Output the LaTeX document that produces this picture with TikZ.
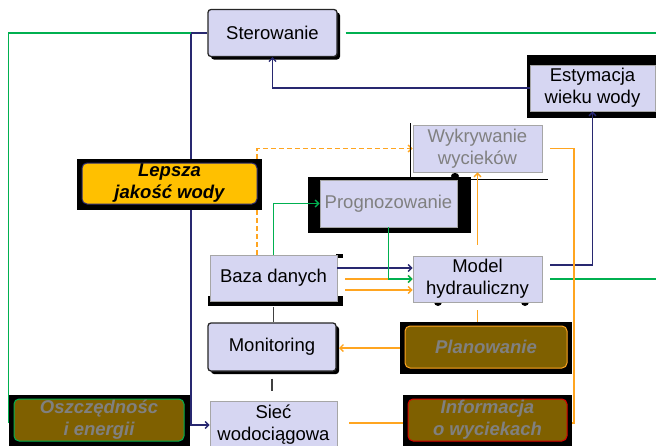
\documentclass[tikz,border=0pt]{standalone}
\usepackage{fontspec}
\setmainfont{Liberation Sans}
\usetikzlibrary{arrows.meta}
\definecolor{lav}{RGB}{214,214,242}
\definecolor{navy}{RGB}{40,40,112}
\definecolor{grn}{RGB}{0,176,80}
\definecolor{org}{RGB}{255,165,32}
\definecolor{brn}{RGB}{127,96,0}
\definecolor{txtgray}{RGB}{128,128,128}
\definecolor{gold}{RGB}{255,192,0}
\pgfdeclarelayer{bg}
\pgfsetlayers{bg,main}

\begin{document}
\begin{tikzpicture}[x=1pt,y=-1pt,
  txt/.style={font=\fontsize{18.5}{22}\selectfont, align=center},
  plain/.style={txt, draw=black!35, fill=lav, line width=0.9pt, inner sep=0pt},
  strong/.style={txt, draw=black!85, fill=lav, line width=1.3pt, rounded corners=3pt, inner sep=0pt},
  back/.style={fill=black, inner sep=0pt},
  pill/.style={align=center, font=\fontsize{18.5}{22}\selectfont\bfseries\itshape,
    rounded corners=5pt, line width=1pt, inner sep=0pt},
  nvl/.style={draw=navy, line width=1.3pt},
  gl/.style={draw=grn, line width=1.4pt},
  ol/.style={draw=org, line width=1.3pt},
  dk/.style={draw=black!75, line width=1.3pt},
  tip/.style={-{Straight Barb[length=3.5pt,width=7pt]}},
]
\useasboundingbox (0,0) rectangle (656,445);

% Sterowanie
\fill[black, rounded corners=3pt] (211,12.5) rectangle (340,59.5);
\node[strong, minimum width=129pt, minimum height=47pt] (ster) at (272.5,33) {Sterowanie};

% Estymacja wieku wody
\node[back, minimum width=129pt, minimum height=63pt] (estbg) at (591.5,86.5) {};
\node[plain, minimum width=125pt, minimum height=46pt] (est) at (592.5,88) {Estymacja\\wieku wody};

% Wykrywanie wyciekow
\draw[black, line width=0.9pt] (410,123) |- (548,179);
\fill[black] (455,176) ellipse (4 and 3);
\node[plain, text=txtgray, minimum width=129pt, minimum height=47pt] (wyk) at (477.5,148.5) {Wykrywanie\\wycieków};

% Prognozowanie
\node[back, minimum width=163pt, minimum height=56pt] (progbg) at (389.5,205) {};
\node[plain, text=txtgray, minimum width=137pt, minimum height=47pt] (prog) at (388.5,203.5) {Prognozowanie};

% Lepsza jakosc wody
\node[back, minimum width=185pt, minimum height=51pt] (lepbg) at (169.5,184.5) {};
\node[pill, fill=gold, draw=navy, minimum width=175pt, minimum height=41pt] (lep) at (169.5,183.5) {Lepsza\\jakość wody};

% Baza danych
\fill[black] (208,296) rectangle (343,306);
\fill[black] (336,254) rectangle (343,258);
\node[plain, minimum width=127pt, minimum height=46pt] (baza) at (273.5,278) {Baza danych};

% Model hydrauliczny
\fill[black] (438,302) circle (4);
\fill[black] (525,302) circle (4);
\node[plain, minimum width=129pt, minimum height=46pt] (model) at (477.5,279) {Model\\hydrauliczny};

% Monitoring
\fill[black, rounded corners=3pt] (211,326) rectangle (339,374);
\node[strong, minimum width=128pt, minimum height=48pt] (mon) at (272,347) {Monitoring};

% Planowanie
\node[back, minimum width=172pt, minimum height=52pt] (planbg) at (486,348) {};
\node[pill, fill=brn, draw=org, text=txtgray, minimum width=162pt, minimum height=42pt] (plan) at (486,347) {Planowanie};

% Siec wodociagowa
\node[plain, minimum width=127pt, minimum height=48pt] (sie) at (273.5,425) {Sieć\\wodociągowa};

% Informacja o wyciekach
\node[back, minimum width=169pt, minimum height=56pt] (infobg) at (487.5,423) {};
\node[pill, fill=brn, draw=red!85!black, text=txtgray, minimum width=159pt, minimum height=42pt] (info) at (487.5,420) {Informacja\\o wyciekach};

% Oszczednosc energii
\node[back, minimum width=181pt, minimum height=56pt] (oszbg) at (99,423) {};
\node[pill, fill=brn, draw=grn, text=txtgray, minimum width=170pt, minimum height=42pt] (osz) at (99,420) {Oszczędnośc\\i energii};

% helper points
\coordinate (nvx) at (191,200);
\coordinate (e1) at (656,33);
\coordinate (m1) at (550,265);
\coordinate (m2) at (550,279);
\coordinate (b1) at (337,268);
\coordinate (b2) at (345,279);
\coordinate (b3) at (345,290);
\coordinate (ox) at (574,300);
\coordinate (sR) at (349,0);
\coordinate (monR) at (339,0);

% connectors running behind the boxes
\begin{pgfonlayer}{bg}
  \draw[ol, dashed, dash pattern=on 5pt off 3pt, tip] ([xshift=-16.5pt]baza.north) |- (wyk.west);
\end{pgfonlayer}

\draw[gl] (oszbg.west) |- (ster.west);
\begin{pgfonlayer}{bg}
  \draw[nvl, tip] (ster.west) -| (nvx) |- (sie.west);
\end{pgfonlayer}
\draw[nvl] (ster.west) -- (nvx |- ster.west);
\draw[gl] ([xshift=8pt]ster.east) -- (e1);

\draw[nvl, tip] (est.west) -| (ster.south);
\draw[nvl, tip] (m1) -| (est.south);
\draw[gl] (m2) -- (m2 -| e1);

% orange links
\draw[ol, tip] (b2) -- (b2 -| model.west);
\draw[ol, tip] (b3) -- (b3 -| model.west);
\draw[ol, tip] ([yshift=11pt]model.north) -- (wyk.south);
\draw[ol] ([yshift=-8pt]model.south) -- (model.south |- planbg.north);
\draw[ol, tip] (planbg.west) -- (planbg.west -| monR);
\draw[ol] ([xshift=8pt]wyk.east) -| (ox) |- (infobg.east);
\draw[ol] (infobg.west) -- (infobg.west -| sR);

% navy and green links into the model
\draw[nvl, tip] (b1) -- (b1 -| model.west);
\draw[gl, tip] (baza.north) |- (prog.west);
\draw[gl, tip] (prog.south) |- (model.west);

% plain links in the left column
\draw[dk] ([yshift=-6pt]baza.south) -- (baza.south |- mon.north);
\draw[dk] ([yshift=-7pt]mon.south) -- ++(0,12);
\end{tikzpicture}
\end{document}
